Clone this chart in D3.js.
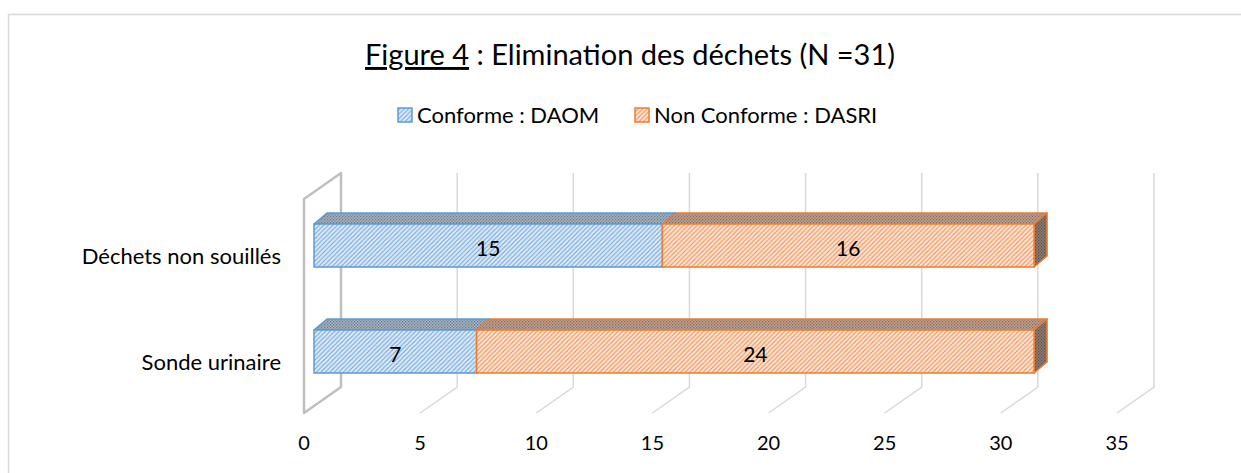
<!DOCTYPE html>
<html><head><meta charset="utf-8">
<script src="https://cdn.jsdelivr.net/npm/d3@7"></script>
<style>body{margin:0;background:#fff}svg{display:block}</style>
</head><body><svg id="c" width="1241" height="473"></svg>
<script>
const categories = ["Déchets non souillés", "Sonde urinaire"];
const seriesNames = ["Conforme : DAOM", "Non Conforme : DASRI"];
const conforme = [15, 7];
const nonConforme = [16, 24];
const tickValues = [0, 5, 10, 15, 20, 25, 30, 35];
const titleMain = "Figure 4";
const titleRest = " : Elimination des déchets (N =31)";

const svg = d3.select("#c");
const FONT = "Lato, 'Open Sans', sans-serif";

// border
svg.append("rect").attr("x", 8.5).attr("y", 14.5).attr("width", 1240).attr("height", 470)
  .attr("fill", "none").attr("stroke", "#d9d9d9").attr("stroke-width", 1.5);

// patterns
const defs = svg.append("defs");
function hatch(id, bg, fg) {
  const p = defs.append("pattern").attr("id", id).attr("patternUnits", "userSpaceOnUse")
    .attr("width", 4.5).attr("height", 4.5);
  p.append("rect").attr("width", 4.5).attr("height", 4.5).attr("fill", bg);
  p.append("path").attr("d", "M-1,1 L1,-1 M0,4.5 L4.5,0 M3.5,5.5 L5.5,3.5")
    .attr("stroke", fg).attr("stroke-width", 1);
}
function dots(id, bg, fg) {
  const p = defs.append("pattern").attr("id", id).attr("patternUnits", "userSpaceOnUse")
    .attr("width", 3).attr("height", 3);
  p.append("rect").attr("width", 3).attr("height", 3).attr("fill", bg);
  p.append("rect").attr("width", 1.2).attr("height", 1.2).attr("fill", fg);
  p.append("rect").attr("x", 1.5).attr("y", 1.5).attr("width", 1.2).attr("height", 1.2).attr("fill", fg);
}
hatch("hBlue", "#dce9f7", "#6aa3d8");
hatch("hOrange", "#fde5d8", "#ef8a47");
dots("tBlue", "#a3b2bf", "#67798c");
dots("tOrange", "#bea08f", "#85695a");
dots("sOrange", "#8f7c73", "#5a4c46");
dots("sBlue", "#8a9aa8", "#55657a");

const colors = [
  {front: "url(#hBlue)", top: "url(#tBlue)", side: "url(#sBlue)", stroke: "#5b9bd5"},
  {front: "url(#hOrange)", top: "url(#tOrange)", side: "url(#sOrange)", stroke: "#ed7d31"}
];

// scales
const xBack = d3.scaleLinear().domain([0, 35]).range([341, 1154]);
const floorDx = -37, floorDy = 26;
const wallTop = 173, wallBottom = 387;
const xBar = d3.scaleLinear().domain([0, 35]).range([314, 1127]);
const barDx = 13, barDy = -11;
const y = d3.scaleBand().domain(categories).range([192.5, 404.5])
  .paddingInner(0.594).paddingOuter(0.297);

// gridlines
const g = svg.append("g");
tickValues.forEach(v => {
  if (v === 0) return;
  const xb = xBack(v);
  g.append("path").attr("d", `M${xb},${wallTop} L${xb},${wallBottom} L${xb + floorDx},${wallBottom + floorDy}`)
    .attr("fill", "none").attr("stroke", "#d9d9d9").attr("stroke-width", 1.5);
});
// side wall at 0
{
  const xb = xBack(0);
  g.append("path").attr("d",
    `M${xb},${wallTop} L${xb},${wallBottom} L${xb + floorDx},${wallBottom + floorDy} L${xb + floorDx},${wallTop + floorDy} Z`)
    .attr("fill", "none").attr("stroke", "#bfbfbf").attr("stroke-width", 2.5).attr("stroke-linejoin", "round");
}

// tick labels
svg.append("g").selectAll("text").data(tickValues).join("text")
  .attr("x", d => xBack(d) + floorDx).attr("y", 450)
  .attr("text-anchor", "middle").attr("font-family", FONT).attr("font-size", 20).attr("fill", "#000")
  .text(d => d);

// category labels
svg.append("g").selectAll("text").data(categories).join("text")
  .attr("x", 281).attr("y", d => y(d) + y.bandwidth() / 2 + 18)
  .attr("text-anchor", "end").attr("font-family", FONT).attr("font-size", 22).attr("fill", "#000")
  .text(d => d);

// bars
const seriesVals = [conforme, nonConforme];
const bars = svg.append("g");
categories.forEach((cat, i) => {
  let start = 0;
  const yt = y(cat), yb = yt + y.bandwidth();
  seriesVals.forEach((vals, s) => {
    const v = vals[i];
    const x0 = xBar(start), x1 = xBar(start + v);
    const c = colors[s];
    bars.append("path").attr("d",
      `M${x0},${yt} L${x0 + barDx},${yt + barDy} L${x1 + barDx},${yt + barDy} L${x1},${yt} Z`)
      .attr("fill", c.top).attr("stroke", c.stroke).attr("stroke-width", 1.5).attr("stroke-linejoin", "round");
    bars.append("path").attr("d",
      `M${x1},${yt} L${x1 + barDx},${yt + barDy} L${x1 + barDx},${yb + barDy} L${x1},${yb} Z`)
      .attr("fill", c.side).attr("stroke", c.stroke).attr("stroke-width", 1.5).attr("stroke-linejoin", "round");
    bars.append("rect").attr("x", x0).attr("y", yt).attr("width", x1 - x0).attr("height", yb - yt)
      .attr("fill", c.front).attr("stroke", c.stroke).attr("stroke-width", 1.5);
    bars.append("text").attr("x", (x0 + x1) / 2).attr("y", (yt + yb) / 2 + 10.5)
      .attr("text-anchor", "middle").attr("font-family", FONT).attr("font-size", 21).attr("fill", "#000")
      .text(v);
    start += v;
  });
});

// title
const t = svg.append("text").attr("x", 630).attr("y", 65).attr("text-anchor", "middle")
  .attr("font-family", FONT).attr("font-size", 29).attr("fill", "#000");
t.append("tspan").attr("text-decoration", "underline").text(titleMain);
t.append("tspan").text(titleRest);

// legend
const legX = [398, 635];
const leg = svg.append("g");
seriesNames.forEach((name, s) => {
  const c = colors[s];
  leg.append("rect").attr("x", legX[s]).attr("y", 108).attr("width", 14).attr("height", 14)
    .attr("fill", c.front).attr("stroke", c.stroke).attr("stroke-width", 1.5);
  leg.append("text").attr("x", legX[s] + 19).attr("y", 123).attr("font-family", FONT)
    .attr("font-size", 22).attr("fill", "#000").text(name);
});
</script></body></html>
